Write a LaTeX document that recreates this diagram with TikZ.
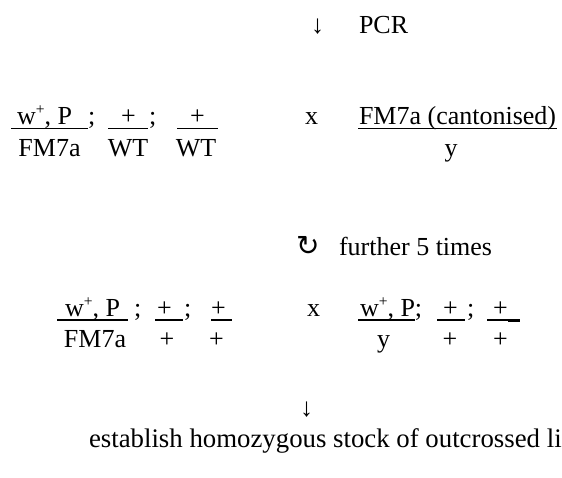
\documentclass[tikz,border=0pt]{standalone}
\usepackage{fontspec}
\setmainfont{Liberation Serif}
\newfontfamily\symfont{DejaVu Sans}
\newcommand{\sps}{\raisebox{0.38em}{\fontsize{15.5}{15.5}\selectfont +}}
\begin{document}
\begin{tikzpicture}[x=1pt,y=-1pt,
  every node/.style={inner sep=0pt, outer sep=0pt, font=\fontsize{26}{30}\selectfont},
  t/.style={anchor=base west},
  c/.style={anchor=base},
  bar/.style={line width=1.3pt}]
\useasboundingbox (0,0) rectangle (562,477);
\clip (0,0) rectangle (562,477);
% row 1
\node[t] (a1) at (311,33) {↓};
\node[t] (pcr) at (359,33) {PCR};
% row 2 left
\coordinate (u1a) at (11,128.5); \coordinate (u1b) at (88,128.5);
\coordinate (u2a) at (108,128.5); \coordinate (u2b) at (148,128.5);
\coordinate (u3a) at (177,128.5); \coordinate (u3b) at (218,128.5);
\draw[bar] (u1a) -- (u1b); \draw[bar] (u2a) -- (u2b); \draw[bar] (u3a) -- (u3b);
\node[t] (n21) at (17,124.5) {w\sps, P};
\node[t] (s21) at (88,124.5) {;};
\node[t] (n22) at (121,124.5) {+};
\node[t] (s22) at (149,124.5) {;};
\node[t] (n23) at (190,124.5) {+};
\node[c] (d21) at (49.5,156) {FM7a};
\node[c] (d22) at (128,156) {WT};
\node[c] (d23) at (196,156) {WT};
% row 2 right
\node[t] (x2) at (305,124.5) {x};
\coordinate (u4a) at (358,128.5); \coordinate (u4b) at (557,128.5);
\draw[bar] (u4a) -- (u4b);
\node[t] (n24) at (359,124.5) {FM7a (cantonised)};
\node[c] (d24) at (451,156) {y};
% row 3
\node[t] (loop) at (296,255) {\symfont\fontsize{28}{30}\selectfont ↻};
\node[t] (fur) at (339,255) {further 5 times};
% row 4 left
\coordinate (v1a) at (57,320); \coordinate (v1b) at (128,320);
\coordinate (v2a) at (155,320); \coordinate (v2b) at (183,320);
\coordinate (v3a) at (211,320); \coordinate (v3b) at (232,320);
\draw[bar] (v1a) -- (v1b); \draw[bar] (v2a) -- (v2b); \draw[bar] (v3a) -- (v3b);
\node[t] (n41) at (65,316) {w\sps, P};
\node[t] (s41) at (134,316) {;};
\node[t] (n42) at (157,316) {+};
\node[t] (s42) at (184,316) {;};
\node[t] (n43) at (211,316) {+};
\node[c] (d41) at (95,347) {FM7a};
\node[c] (d42) at (167,347) {+};
\node[c] (d43) at (216.5,347) {+};
% row 4 right
\node[t] (x4) at (307,316) {x};
\coordinate (v4a) at (358,320); \coordinate (v4b) at (415,320);
\coordinate (v5a) at (437,320); \coordinate (v5b) at (465,320);
\coordinate (v6a) at (487,320); \coordinate (v6b) at (520,320);
\coordinate (v7a) at (508,321); \coordinate (v7b) at (520,321);
\draw[bar] (v4a) -- (v4b); \draw[bar] (v5a) -- (v5b); \draw[bar] (v6a) -- (v6b);
\draw[line width=1.8pt] (v7a) -- (v7b);
\node[t] (n44) at (360,316) {w\sps, P;};
\node[t] (n45) at (443,316) {+};
\node[t] (s45) at (467,316) {;};
\node[t] (n46) at (493,316) {+};
\node[c] (d44) at (383.5,347) {y};
\node[c] (d45) at (450,347) {+};
\node[c] (d46) at (500.5,347) {+};
% row 5
\node[t] (a2) at (300,416) {↓};
\node[t, font=\fontsize{26.8}{30}\selectfont] (est) at (89,447) {establish homozygous stock of outcrossed li};
\end{tikzpicture}
\end{document}
